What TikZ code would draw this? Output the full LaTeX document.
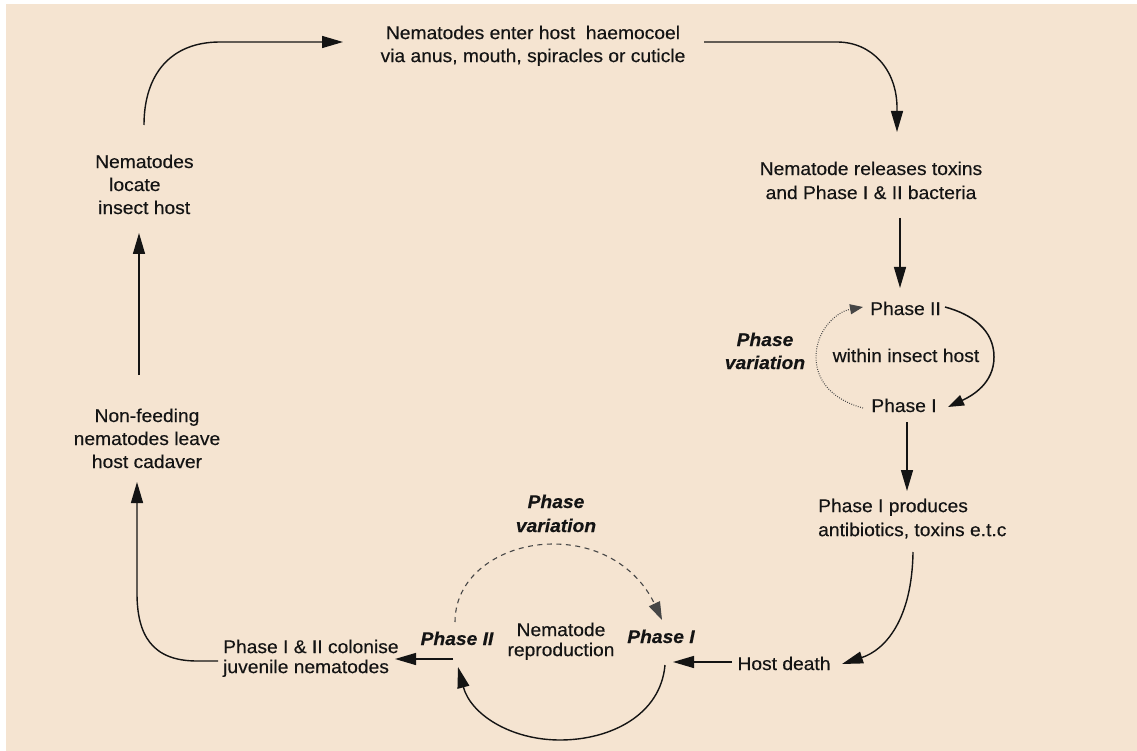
\documentclass[tikz,border=0pt]{standalone}
\usepackage{fontspec}
\setmainfont{Liberation Sans}[FakeStretch=1.04,FakeBold=0.35]
\usetikzlibrary{arrows.meta}
\definecolor{bg}{RGB}{245,228,209}
\definecolor{ink}{RGB}{20,20,20}
\definecolor{dashink}{RGB}{70,70,70}
\begin{document}
\begin{tikzpicture}[x=1pt,y=-1pt,
  every node/.style={inner sep=0pt, text=ink, align=center, font=\fontsize{18.5}{23}\selectfont},
  bi/.style={font=\fontsize{18.5}{23}\selectfont\bfseries\itshape},
  bi24/.style={font=\fontsize{18.5}{24}\selectfont\bfseries\itshape},
  ls20/.style={font=\fontsize{18.5}{20}\selectfont},
  ls24/.style={font=\fontsize{18.5}{24}\selectfont},
  arr/.style={draw=ink, line width=1.4pt, -{Triangle[length=21pt,width=12pt]}},
  arrs/.style={draw=ink, line width=1.5pt, -{Triangle[length=16pt,width=11pt]}},
  arrdot/.style={draw=dashink, line width=1.1pt, dash pattern=on 0.8pt off 1.5pt, -{Triangle[length=13pt,width=10pt,sep=0pt]}},
  arrdash/.style={draw=dashink, line width=1.1pt, dash pattern=on 5pt off 4.5pt, -{Triangle[length=18pt,width=12pt]}}]
\useasboundingbox (0,0) rectangle (1137,751);
\fill[white] (0,0) rectangle (1137,751);
\fill[bg] (6,4) rectangle (1137,751);

% nodes
\node (enter) at (533,45.8) {Nematodes enter host~ haemocoel\\via anus, mouth, spiracles or cuticle};
\node[anchor=west, align=left] (locate) at (95,184.4) {Nematodes\\\hspace*{14pt}locate\\\hspace*{3pt}insect host};
\node (leave) at (147,438.4) {Non-feeding\\nematodes leave\\host cadaver};
\node[ls20, anchor=west, align=left] (colon) at (223,658.3) {Phase I \& II colonise\\juvenile nematodes};
\node[bi] (bII) at (457,638.4) {Phase II};
\node[bi] (bI) at (661,636.4) {Phase I};
\node[ls20] (repro) at (561,641.3) {Nematode\\reproduction};
\node[bi24] (pvb) at (556,513.4) {Phase\\variation};
\node (death) at (784,663.4) {Host death};
\node[ls24, anchor=west, align=left] (prod) at (818,518.6) {Phase I produces\\antibiotics, toxins e.t.c};
\node (tI) at (904,405.4) {Phase I};
\node (tII) at (905.5,308.4) {Phase II};
\node (within) at (906,355.4) {within insect host};
\node[bi] (pvr) at (765,350.9) {Phase\\variation};
\node[ls24] (rel) at (871,180.4) {Nematode releases toxins\\and Phase I \& II bacteria};

% connectors
\draw[arr] ([shift={(49,-59.4)}]locate.west) .. controls (144,75) and (170,42) .. (220,42) -- ([shift={(-190,-3.8)}]enter.center);
\draw[arr] ([shift={(171,-3.8)}]enter.center) -- (837,42) .. controls (872,42) and (897,70) .. (897,108) -- ([shift={(26,-48.4)}]rel.center);
\draw[arr] ([shift={(29,37.6)}]rel.center) -- ([shift={(-5.5,-20.4)}]tII.center);
\draw[arrs] ([shift={(39.5,-1.4)}]tII.center) to[out=-15,in=90] (994,357) to[out=-90,in=25] ([shift={(44,1.6)}]tI.center);
\draw[arrdot] ([shift={(-41,2.6)}]tI.center) to[out=165,in=-90] (816,357) to[out=90,in=190] ([shift={(-42.5,-1.4)}]tII.center);
\draw[arr] ([shift={(3,16.6)}]tI.center) -- ([shift={(89,-27.6)}]prod.west);
\draw[arr] ([shift={(95,33.4)}]prod.west) .. controls (912,620) and (885,650) .. ([shift={(58,0.6)}]death.center);
\draw[arr] ([shift={(-52,-1.4)}]death.center) -- ([shift={(12,25.6)}]bI.center);
\draw[arr] ([shift={(4,28.6)}]bI.center) to[out=-95,in=0] (560,740) to[out=180,in=-75] ([shift={(1,28.6)}]bII.center);
\draw[arrdash] ([shift={(-2,-16.4)}]bII.center) to[out=90,in=180] (553,544) to[out=0,in=115] ([shift={(1,-16.4)}]bI.center);
\draw[arr] ([shift={(-4,20.6)}]bII.center) -- ([shift={(172,0.7)}]colon.west);
\draw[arr] ([shift={(-5,2.7)}]colon.west) -- (197,661) .. controls (152,661) and (137,635) .. (137,593) -- ([shift={(-10,43.6)}]leave.center);
\draw[arr] ([shift={(-8,-63.4)}]leave.center) -- ([shift={(44,48.6)}]locate.west);
\end{tikzpicture}
\end{document}
